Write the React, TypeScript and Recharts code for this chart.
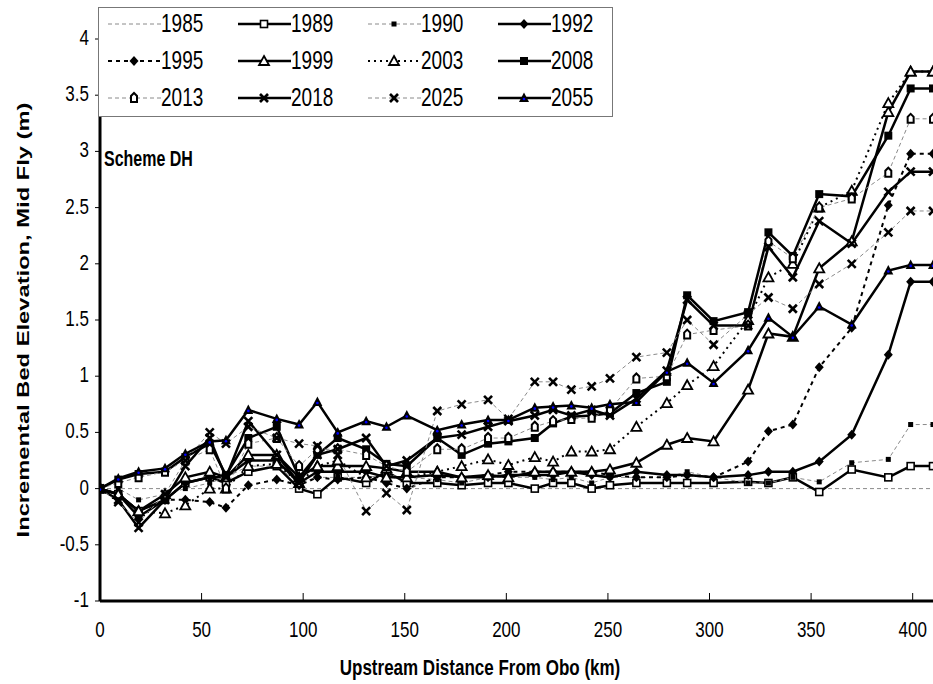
import React from "react";
import { LineChart, Line, XAxis, YAxis, Legend, Customized } from "recharts";

// distance upstream from Obo (km)
const distance = [
  0, 9, 19, 32, 42, 54, 62, 73, 87, 98, 107, 117, 131, 141, 151, 166, 178, 191,
  201, 214, 223, 232, 242, 251, 264, 279, 289, 302, 319, 329, 341, 354, 370,
  388, 399, 410,
];

const y1985 = distance.map(() => 0);
const y1989 = [
  0, -0.05, -0.2, -0.1, 0.05, 0.1, 0.05, 0.15, 0.2, 0.0, -0.05, 0.1, 0.05, 0.15,
  0.05, 0.05, 0.03, 0.05, 0.05, 0.0, 0.05, 0.05, 0.0, 0.03, 0.05, 0.05, 0.05,
  0.05, 0.06, 0.05, 0.1, -0.03, 0.17, 0.1, 0.2, 0.2,
];
const y1990 = [
  0, 0.0, -0.1, -0.05, 0.0, 0.05, 0.1, 0.2, 0.2, 0.05, 0.1, 0.1, 0.1, 0.12, 0.1,
  0.08, 0.05, 0.1, 0.1, 0.1, 0.08, 0.1, 0.05, 0.1, 0.1, 0.1, 0.15, 0.1, 0.05,
  0.05, 0.1, 0.06, 0.23, 0.26, 0.57, 0.57,
];
const y1992 = [
  0, -0.05, -0.25, -0.1, 0.05, 0.1, 0.1, 0.25, 0.25, 0.05, 0.15, 0.15, 0.15, 0.1,
  0.1, 0.12, 0.1, 0.1, 0.12, 0.12, 0.12, 0.15, 0.12, 0.1, 0.15, 0.12, 0.12, 0.1,
  0.12, 0.15, 0.15, 0.24, 0.48, 1.19, 1.84, 1.84,
];
const y1995 = [
  0, -0.05, -0.2, -0.1, -0.1, -0.12, -0.17, 0.03, 0.08, 0.03, 0.1, 0.08, 0.1,
  0.05, 0.0, 0.1, 0.1, 0.12, 0.15, 0.15, 0.15, 0.15, 0.15, 0.12, 0.1, 0.1, 0.12,
  0.1, 0.24, 0.51, 0.57, 1.08, 1.43, 2.52, 2.98, 2.98,
];
const y1999 = [
  0, -0.05, -0.2, -0.05, 0.1, 0.15, 0.1, 0.3, 0.3, 0.1, 0.2, 0.2, 0.2, 0.18,
  0.15, 0.15, 0.1, 0.12, 0.1, 0.15, 0.15, 0.15, 0.15, 0.17, 0.23, 0.39, 0.45,
  0.42, 0.88, 1.38, 1.35, 1.96, 2.2, 3.35, 3.71, 3.71,
];
const y2003 = [
  0, -0.05, -0.2, -0.22, -0.15, 0.0, 0.0, 0.2, 0.22, 0.05, 0.2, 0.25, 0.1, 0.1,
  0.1, 0.15, 0.2, 0.26, 0.21, 0.28, 0.24, 0.33, 0.33, 0.35, 0.55, 0.76, 0.92,
  1.09, 1.5, 1.88, 2.0, 2.5, 2.65, 3.43, 3.71, 3.71,
];
const y2008 = [
  0, 0.08, 0.13, 0.15, 0.28, 0.4, 0.12, 0.45, 0.55, 0.1, 0.3, 0.45, 0.35, 0.22,
  0.2, 0.45, 0.3, 0.4, 0.42, 0.45, 0.58, 0.64, 0.65, 0.67, 0.85, 0.95, 1.72,
  1.49, 1.57, 2.28, 2.07, 2.62, 2.6, 3.14, 3.56, 3.56,
];
const y2013 = [
  0, 0.05, 0.1, 0.15, 0.25, 0.35, 0.0, 0.4, 0.45, 0.2, 0.35, 0.35, 0.3, 0.2,
  0.15, 0.35, 0.35, 0.45, 0.45, 0.55, 0.6, 0.62, 0.63, 0.7, 0.98, 1.0, 1.37,
  1.41, 1.45, 2.2, 2.05, 2.5, 2.58, 2.81, 3.29, 3.29,
];
const y2018 = [
  0, -0.1, -0.35, -0.1, 0.2, 0.45, 0.1, 0.6, 0.3, 0.05, 0.3, 0.35, 0.45, 0.2,
  0.25, 0.45, 0.48, 0.55, 0.6, 0.65, 0.7, 0.65, 0.7, 0.65, 0.8, 1.05, 1.68, 1.45,
  1.45, 2.15, 1.88, 2.38, 2.18, 2.64, 2.82, 2.82,
];
const y2025 = [
  0, -0.12, -0.3, -0.05, 0.25, 0.5, 0.4, 0.55, 0.45, 0.4, 0.38, 0.3, -0.2, -0.04,
  -0.19, 0.69, 0.75, 0.79, 0.62, 0.95, 0.95, 0.88, 0.91, 0.98, 1.17, 1.21, 1.5,
  1.28, 1.55, 1.7, 1.6, 1.82, 2.0, 2.28, 2.47, 2.47,
];
const y2055 = [
  0, 0.09, 0.15, 0.18, 0.31, 0.42, 0.43, 0.7, 0.62, 0.57, 0.77, 0.5, 0.6, 0.55,
  0.65, 0.52, 0.57, 0.61, 0.61, 0.72, 0.73, 0.74, 0.72, 0.75, 0.77, 1.04, 1.12,
  0.94, 1.23, 1.52, 1.35, 1.62, 1.46, 1.94, 1.99, 1.99,
];

const xTicks = [0, 50, 100, 150, 200, 250, 300, 350, 400];
const yTicks = [-1, -0.5, 0, 0.5, 1, 1.5, 2, 2.5, 3, 3.5, 4];

const FONT = "'Liberation Sans', Arial, sans-serif";
const GREY = "#8a8a8a";
const STRETCH = 1.33; // text in the original is taller than it is wide

const series = [
  { key: "s1985", name: "1985", values: y1985, stroke: GREY, width: 1, dash: "4 3", marker: "none" },
  { key: "s1989", name: "1989", values: y1989, stroke: "#000", width: 2.5, dash: undefined, marker: "openSquare" },
  { key: "s1990", name: "1990", values: y1990, stroke: GREY, width: 1, dash: "4 3", marker: "smallSquare" },
  { key: "s1992", name: "1992", values: y1992, stroke: "#000", width: 2.5, dash: undefined, marker: "diamond" },
  { key: "s1995", name: "1995", values: y1995, stroke: "#000", width: 2, dash: "4 4", marker: "diamond" },
  { key: "s1999", name: "1999", values: y1999, stroke: "#000", width: 2.5, dash: undefined, marker: "openTriangle" },
  { key: "s2003", name: "2003", values: y2003, stroke: "#000", width: 2, dash: "2 4", marker: "openTriangle" },
  { key: "s2008", name: "2008", values: y2008, stroke: "#000", width: 2.5, dash: undefined, marker: "filledSquare" },
  { key: "s2013", name: "2013", values: y2013, stroke: GREY, width: 1, dash: "4 3", marker: "house" },
  { key: "s2018", name: "2018", values: y2018, stroke: "#000", width: 2.5, dash: undefined, marker: "cross" },
  { key: "s2025", name: "2025", values: y2025, stroke: GREY, width: 1, dash: "4 3", marker: "cross" },
  { key: "s2055", name: "2055", values: y2055, stroke: "#000", width: 2.5, dash: undefined, marker: "blueTriangle" },
];

const data = distance.map((x, i) => {
  const row: Record<string, number> = { x };
  series.forEach((s) => {
    row[s.key] = s.values[i];
  });
  return row;
});

function Marker({ cx, cy, kind }: { cx: number; cy: number; kind: string }) {
  switch (kind) {
    case "openSquare":
      return <rect x={cx - 3.5} y={cy - 3.5} width={7} height={7} fill="#fff" stroke="#000" strokeWidth={1.6} />;
    case "smallSquare":
      return <rect x={cx - 2.5} y={cy - 2.5} width={5} height={5} fill="#000" />;
    case "diamond":
      return <polygon points={`${cx},${cy - 5} ${cx + 4.5},${cy} ${cx},${cy + 5} ${cx - 4.5},${cy}`} fill="#000" />;
    case "openTriangle":
      return (
        <polygon
          points={`${cx},${cy - 5} ${cx + 5},${cy + 4} ${cx - 5},${cy + 4}`}
          fill="#fff"
          stroke="#000"
          strokeWidth={1.8}
        />
      );
    case "filledSquare":
      return <rect x={cx - 4} y={cy - 4} width={8} height={8} fill="#000" />;
    case "house":
      return (
        <path
          d={`M${cx - 3},${cy + 4} L${cx - 3},${cy - 2} L${cx},${cy - 5} L${cx + 3},${cy - 2} L${cx + 3},${cy + 4} Z`}
          fill="#fff"
          stroke="#000"
          strokeWidth={2}
        />
      );
    case "cross":
      return (
        <g stroke="#000" strokeWidth={2.6}>
          <line x1={cx - 4} y1={cy - 4} x2={cx + 4} y2={cy + 4} />
          <line x1={cx - 4} y1={cy + 4} x2={cx + 4} y2={cy - 4} />
        </g>
      );
    case "blueTriangle":
      return (
        <g>
          <polygon points={`${cx},${cy - 5.5} ${cx + 5},${cy + 4} ${cx - 5},${cy + 4}`} fill="#000" />
          <circle cx={cx} cy={cy + 1} r={1.3} fill="#0000ff" />
        </g>
      );
    default:
      return <g />;
  }
}

const LegendBox = () => (
  <div
    style={{
      width: 515,
      height: 110,
      background: "#fff",
      border: "1px solid #777",
      boxSizing: "border-box",
      position: "relative",
      fontFamily: FONT,
      fontSize: 19,
    }}
  >
    {series.map((s, i) => {
      const col = i % 4;
      const row = Math.floor(i / 4);
      return (
        <div
          key={s.key}
          style={{
            position: "absolute",
            left: 9 + col * 130,
            top: 3 + row * 37,
            height: 26,
            display: "flex",
            alignItems: "center",
          }}
        >
          <svg width={53} height={20}>
            <line
              x1={0}
              y1={10}
              x2={53}
              y2={10}
              stroke={s.stroke}
              strokeWidth={s.width}
              strokeDasharray={s.dash}
            />
            <Marker cx={26} cy={10} kind={s.marker} />
          </svg>
          <span style={{ lineHeight: "20px", display: "inline-block", transform: `scaleY(${STRETCH})` }}>
            {s.name}
          </span>
        </div>
      );
    })}
  </div>
);

const XTick = (props: any) => {
  const { x, payload } = props;
  return (
    <g>
      <line x1={x} y1={601} x2={x} y2={593} stroke="#000" strokeWidth={1} />
      <text
        transform={`translate(${x},637) scale(1,${STRETCH})`}
        textAnchor="middle"
        fontFamily={FONT}
        fontSize={17}
        fill="#000"
      >
        {payload.value}
      </text>
    </g>
  );
};

const YTick = (props: any) => {
  const { x, y, payload } = props;
  return (
    <text
      transform={`translate(${x},${y + 6}) scale(1,${STRETCH})`}
      textAnchor="end"
      fontFamily={FONT}
      fontSize={17}
      fill="#000"
    >
      {payload.value}
    </text>
  );
};

const Titles = () => (
  <g fontFamily={FONT} fontWeight="bold" fill="#000">
    <text transform={`translate(480,675) scale(1,${STRETCH})`} textAnchor="middle" fontSize={17}>
      Upstream Distance From Obo (km)
    </text>
    <text transform={`translate(29,320) rotate(-90) scale(${STRETCH * 1.05},1)`} textAnchor="middle" fontSize={17}>
      Incremental Bed Elevation, Mid Fly (m)
    </text>
    <text transform={`translate(104,166) scale(1,${STRETCH})`} fontSize={16}>
      Scheme DH
    </text>
  </g>
);

export default function App() {
  return (
    <div style={{ position: "relative", width: 933, height: 684, background: "#fff" }}>
      <style>{"body{margin:0}"}</style>
      <LineChart width={933} height={684} data={data} margin={{ top: 39, right: 0, left: 0, bottom: 0 }}>
        <XAxis
          xAxisId="top"
          orientation="top"
          dataKey="x"
          type="number"
          domain={[0, 410]}
          height={0}
          tick={false}
          tickLine={false}
          axisLine={{ stroke: "#000", strokeWidth: 3 }}
        />
        <XAxis
          dataKey="x"
          type="number"
          domain={[0, 410]}
          ticks={xTicks}
          height={83}
          tickLine={false}
          tick={<XTick />}
          axisLine={{ stroke: "#000", strokeWidth: 3 }}
          allowDataOverflow
        />
        <YAxis
          type="number"
          domain={[-1, 4]}
          ticks={yTicks}
          width={100}
          tickSize={5}
          tickMargin={6}
          tickLine={{ stroke: "#000" }}
          tick={<YTick />}
          axisLine={{ stroke: "#000", strokeWidth: 3 }}
        />
        {series.map((s) => (
          <Line
            key={s.key}
            dataKey={s.key}
            name={s.name}
            stroke={s.stroke}
            strokeWidth={s.width}
            strokeDasharray={s.dash}
            isAnimationActive={false}
            dot={(p: any) => <Marker key={`${s.key}-${p.index}`} cx={p.cx} cy={p.cy} kind={s.marker} />}
            activeDot={false}
          />
        ))}
        <Legend
          layout="horizontal"
          verticalAlign="middle"
          align="center"
          content={<LegendBox />}
          wrapperStyle={{ position: "absolute", left: 98, top: 7, width: 515, height: 110 }}
        />
        <Customized component={<Titles />} />
      </LineChart>
    </div>
  );
}
